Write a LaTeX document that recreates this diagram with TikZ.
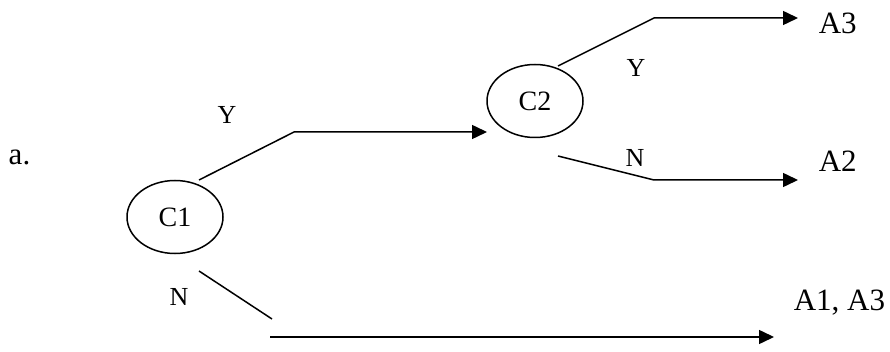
\documentclass[tikz,border=0pt]{standalone}
\usepackage{fontspec}
\setmainfont{Liberation Serif}
\usetikzlibrary{shapes.geometric, arrows.meta}

\tikzset{
  decision/.style={ellipse, draw, minimum width=96pt, minimum height=73pt, inner sep=0pt, font=\fontsize{28}{33}\selectfont},
  answer/.style={inner sep=0pt, anchor=base, font=\fontsize{26}{31}\selectfont},
  action/.style={inner sep=0pt, anchor=base west, font=\fontsize{31}{37}\selectfont},
}

\begin{document}
\begin{tikzpicture}[x=1pt, y=-1pt, line width=1.5pt, >={Triangle[length=15pt, width=14pt]}]
\useasboundingbox (0,0) rectangle (890,352);
\node[action] (item) at (8,165) {a.};
\node[decision] (c1) at (175,217) {C1};
\node[decision] (c2) at (535,101) {C2};
\node[answer] (y1) at (227,124) {Y};
\node[answer] (n1) at (179,305) {N};
\node[answer] (y2) at (636,77) {Y};
\node[answer] (n2) at (635,167) {N};
\node[action] (a3) at (818,34) {A3};
\node[action] (a2) at (818,172) {A2};
\node[action] (a13) at (793,310) {A1, A3};
\coordinate (c1y) at (199,180);
\coordinate (c1yk) at (294,132);
\coordinate (c1ye) at (487,132);
\coordinate (c1n) at (199,271);
\coordinate (c1nk) at (272,319);
\coordinate (c1ns) at (270,337);
\coordinate (c1ne) at (774,337);
\coordinate (c2y) at (558,66);
\coordinate (c2yk) at (654,18);
\coordinate (c2ye) at (798,18);
\coordinate (c2n) at (558,156);
\coordinate (c2nk) at (654,180);
\coordinate (c2ne) at (798,180);
\draw[->] (c1y) -- (c1yk) -- (c1ye);
\draw (c1n) -- (c1nk);
\draw[->] (c1ns) -- (c1ne);
\draw[->] (c2y) -- (c2yk) -- (c2ye);
\draw[->] (c2n) -- (c2nk) -- (c2ne);
\end{tikzpicture}
\end{document}
